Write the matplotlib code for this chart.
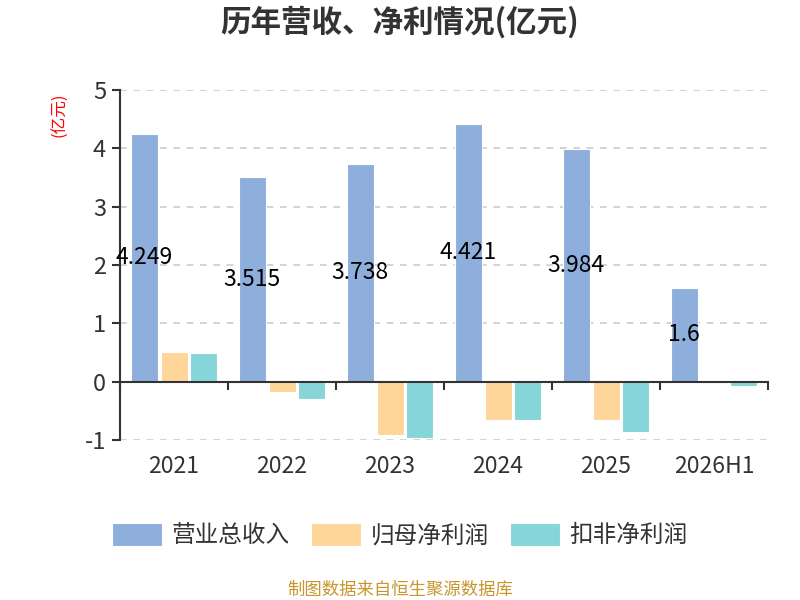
import matplotlib
matplotlib.use('Agg')
from matplotlib import pyplot as plt
from matplotlib.patches import FancyBboxPatch
from matplotlib.legend_handler import HandlerPatch
import numpy as np

plt.rcParams['font.family'] = ['Noto Sans CJK SC', 'DejaVu Sans']
plt.rcParams['axes.unicode_minus'] = False

years = ['2021', '2022', '2023', '2024', '2025', '2026H1']
revenue = [4.249, 3.515, 3.738, 4.421, 3.984, 1.6]
net_profit = [0.51, -0.17, -0.92, -0.65, -0.66, 0.0]
deducted_profit = [0.49, -0.30, -0.97, -0.66, -0.86, -0.07]
revenue_labels = ['4.249', '3.515', '3.738', '4.421', '3.984', '1.6']

series_names = ['营业总收入', '归母净利润', '扣非净利润']
colors = ['#8eaedb', '#ffd699', '#86d5d9']
dark = '#333333'


class RoundHandler(HandlerPatch):
    def create_artists(self, legend, orig_handle, xdescent, ydescent,
                       width, height, fontsize, trans):
        p = FancyBboxPatch((-xdescent, -ydescent), width, height,
                           boxstyle='round,pad=0,rounding_size=6',
                           facecolor=orig_handle.get_facecolor(),
                           edgecolor='none', transform=trans)
        return [p]


fig = plt.figure(figsize=(8, 6), dpi=100)
ax = fig.add_axes([0.15, 1 - 440 / 600, 0.81, 350 / 600])

x = np.arange(len(years))
w = 0.25
off = 0.275
bars = []
for k, vals in enumerate([revenue, net_profit, deducted_profit]):
    b = ax.bar(x + (k - 1) * off, vals, width=w, color=colors[k],
               edgecolor='white', linewidth=0.8, zorder=2,
               label=series_names[k])
    bars.append(b)

for i, v in enumerate(revenue):
    ax.text(x[i] - off, v / 2, revenue_labels[i], ha='center', va='center',
            fontsize=16.5, color='black', zorder=5)

ax.set_xlim(-0.5, len(years) - 0.5)
ax.set_ylim(-1, 5)
ax.set_yticks(range(-1, 6))
ax.yaxis.grid(True, linestyle=(0, (4, 4)), color='#cccccc', linewidth=1.2)
ax.set_axisbelow(True)

for s in ['top', 'right']:
    ax.spines[s].set_visible(False)
ax.spines['left'].set_color(dark)
ax.spines['left'].set_linewidth(1.5)
ax.spines['bottom'].set_position(('data', 0))
ax.spines['bottom'].set_color(dark)
ax.spines['bottom'].set_linewidth(1.5)
ax.spines['bottom'].set_zorder(3)

ax.set_xticks(x)
ax.set_xticklabels(years)
ax.set_xticks(np.arange(len(years) + 1) - 0.5, minor=True)
ax.tick_params(axis='x', which='major', length=0, pad=53, labelsize=16.5,
               labelcolor=dark)
ax.tick_params(axis='x', which='minor', length=6, width=1.5, color=dark,
               direction='out')
ax.tick_params(axis='y', length=6, width=1.5, color=dark, labelsize=17,
               labelcolor=dark, pad=4)

fig.text(0.5, 1 - 22 / 600, '历年营收、净利情况(亿元)', ha='center', va='center',
         fontsize=22, fontweight='bold', color=dark)
fig.text(60 / 800, 1 - 115 / 600, '(亿元)', rotation=90, ha='center',
         va='center', fontsize=12, color='red')

ax.legend(handles=bars, labels=series_names, loc='center',
          bbox_to_anchor=(0.5, 1 - 535 / 600), bbox_transform=fig.transFigure,
          ncol=3, frameon=False, fontsize=17, handlelength=2.1,
          handleheight=1.15, handletextpad=0.42, columnspacing=0.9,
          handler_map={matplotlib.patches.Rectangle: RoundHandler()},
          labelcolor=dark)

fig.text(0.5, 1 - 590 / 600, '制图数据来自恒生聚源数据库', ha='center',
         va='center', fontsize=12.5, color='#c8962d')

fig.savefig('out.png', dpi=100)
